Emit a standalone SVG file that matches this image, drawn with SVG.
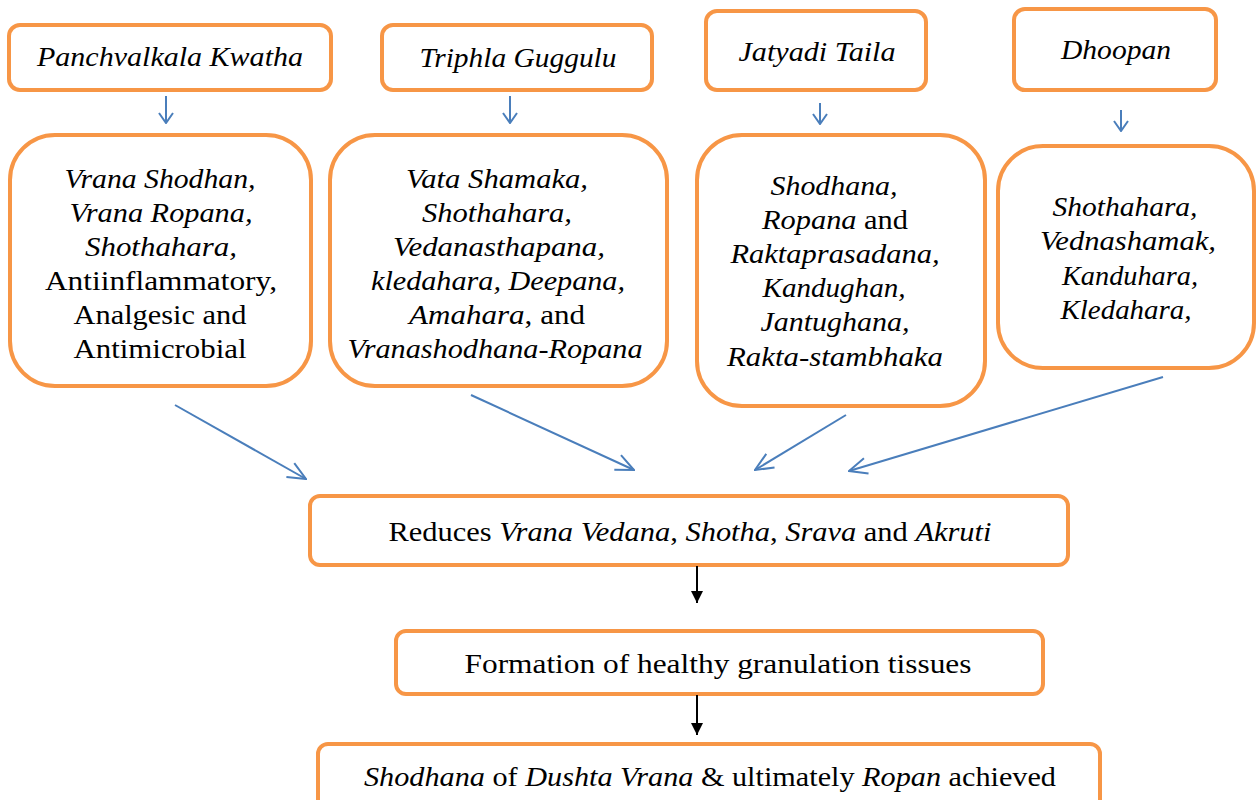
<svg xmlns="http://www.w3.org/2000/svg" width="1256" height="800" viewBox="0 0 1256 800">
<defs>
<style>
.box{fill:#fff;stroke:#F79646;stroke-width:4}
.t{font-family:"Liberation Serif","Times New Roman",serif;font-size:28px;fill:#000;text-anchor:middle}
.i{font-style:italic}
.blue{stroke:#4A7EBB;stroke-width:2;fill:none}
.blk{stroke:#000;stroke-width:2;fill:none}
</style>
<marker id="ob" viewBox="0 0 12 16" refX="11" refY="8" markerWidth="12" markerHeight="16" markerUnits="userSpaceOnUse" orient="auto">
<polyline points="1,1 11,8 1,15" fill="none" stroke="#4A7EBB" stroke-width="2"/>
</marker>
<marker id="obl" viewBox="0 0 20 20" refX="19" refY="10" markerWidth="20" markerHeight="20" markerUnits="userSpaceOnUse" orient="auto">
<polyline points="1,2 19,10 1,18" fill="none" stroke="#4A7EBB" stroke-width="2"/>
</marker>
<marker id="fb" viewBox="0 0 10 10" refX="10" refY="5" markerWidth="14" markerHeight="12" markerUnits="userSpaceOnUse" orient="auto">
<path d="M0,0 L10,5 L0,10 Z" fill="#000"/>
</marker>
</defs>
<rect width="1256" height="800" fill="#fff"/>

<g id="n1"><rect class="box" x="9" y="25" width="322" height="65" rx="11"/><text class="t i" x="170" y="66" textLength="266" lengthAdjust="spacingAndGlyphs">Panchvalkala Kwatha</text></g>
<g id="n2"><rect class="box" x="382" y="25" width="270" height="65" rx="11"/><text class="t i" x="518" y="67" textLength="197" lengthAdjust="spacingAndGlyphs">Triphla Guggulu</text></g>
<g id="n3"><rect class="box" x="706" y="11" width="220" height="79" rx="11"/><text class="t i" x="817" y="61" textLength="157" lengthAdjust="spacingAndGlyphs">Jatyadi Taila</text></g>
<g id="n4"><rect class="box" x="1014" y="9" width="202" height="81" rx="11"/><text class="t i" x="1116" y="59" textLength="110" lengthAdjust="spacingAndGlyphs">Dhoopan</text></g>

<g id="m1"><rect class="box" x="10" y="135" width="301" height="251" rx="45"/>
<text class="t i" x="160" y="188" textLength="191" lengthAdjust="spacingAndGlyphs">Vrana Shodhan,</text>
<text class="t i" x="161" y="222" textLength="183" lengthAdjust="spacingAndGlyphs">Vrana Ropana,</text>
<text class="t i" x="161" y="256" textLength="152" lengthAdjust="spacingAndGlyphs">Shothahara,</text>
<text class="t" x="161" y="290" textLength="232" lengthAdjust="spacingAndGlyphs">Antiinflammatory,</text>
<text class="t" x="160" y="324" textLength="173" lengthAdjust="spacingAndGlyphs">Analgesic and</text>
<text class="t" x="160" y="358" textLength="173" lengthAdjust="spacingAndGlyphs">Antimicrobial</text>
</g>
<g id="m2"><rect class="box" x="330" y="135" width="337" height="251" rx="45"/>
<text class="t i" x="497" y="188" textLength="182" lengthAdjust="spacingAndGlyphs">Vata Shamaka,</text>
<text class="t i" x="497" y="222" textLength="150" lengthAdjust="spacingAndGlyphs">Shothahara,</text>
<text class="t i" x="499" y="256" textLength="212" lengthAdjust="spacingAndGlyphs">Vedanasthapana,</text>
<text class="t i" x="498" y="290" textLength="254" lengthAdjust="spacingAndGlyphs">kledahara, Deepana,</text>
<text class="t" x="497" y="324" textLength="176" lengthAdjust="spacingAndGlyphs"><tspan class="i">Amahara</tspan>, and</text>
<text class="t i" x="495" y="358" textLength="295" lengthAdjust="spacingAndGlyphs">Vranashodhana-Ropana</text>
</g>
<g id="m3"><rect class="box" x="697" y="135" width="288" height="271" rx="45"/>
<text class="t i" x="834" y="195" textLength="127" lengthAdjust="spacingAndGlyphs">Shodhana,</text>
<text class="t" x="835" y="229" textLength="146" lengthAdjust="spacingAndGlyphs"><tspan class="i">Ropana</tspan> and</text>
<text class="t i" x="835" y="263" textLength="209" lengthAdjust="spacingAndGlyphs">Raktaprasadana,</text>
<text class="t i" x="834" y="297" textLength="143" lengthAdjust="spacingAndGlyphs">Kandughan,</text>
<text class="t i" x="835" y="331" textLength="149" lengthAdjust="spacingAndGlyphs">Jantughana,</text>
<text class="t i" x="835" y="366" textLength="216" lengthAdjust="spacingAndGlyphs">Rakta-stambhaka</text>
</g>
<g id="m4"><rect class="box" x="998" y="146" width="256" height="222" rx="45"/>
<text class="t i" x="1125" y="216" textLength="145" lengthAdjust="spacingAndGlyphs">Shothahara,</text>
<text class="t i" x="1128" y="250" textLength="176" lengthAdjust="spacingAndGlyphs">Vednashamak,</text>
<text class="t i" x="1130" y="285" textLength="136" lengthAdjust="spacingAndGlyphs">Kanduhara,</text>
<text class="t i" x="1126" y="319" textLength="131" lengthAdjust="spacingAndGlyphs">Kledahara,</text>
</g>

<g id="r1"><rect class="box" x="310" y="496" width="758" height="69" rx="10"/>
<text class="t" x="690" y="541" textLength="603" lengthAdjust="spacingAndGlyphs">Reduces <tspan class="i">Vrana Vedana</tspan>, <tspan class="i">Shotha</tspan>, <tspan class="i">Srava</tspan> and <tspan class="i">Akruti</tspan></text>
</g>
<g id="r2"><rect class="box" x="396" y="631" width="647" height="63" rx="10"/>
<text class="t" x="718" y="673" textLength="507" lengthAdjust="spacingAndGlyphs">Formation of healthy granulation tissues</text>
</g>
<g id="r3"><rect class="box" x="318" y="744" width="782" height="70" rx="10"/>
<text class="t" x="710" y="786" textLength="692" lengthAdjust="spacingAndGlyphs"><tspan class="i">Shodhana</tspan> of <tspan class="i">Dushta Vrana</tspan> &amp; ultimately <tspan class="i">Ropan</tspan> achieved</text>
</g>

<g id="connectors">
<line class="blue" x1="166" y1="96" x2="166" y2="123" marker-end="url(#ob)"/>
<line class="blue" x1="510" y1="96" x2="510" y2="123" marker-end="url(#ob)"/>
<line class="blue" x1="820" y1="103" x2="820" y2="124" marker-end="url(#ob)"/>
<line class="blue" x1="1121" y1="110" x2="1121" y2="131" marker-end="url(#ob)"/>
<line class="blue" x1="175" y1="405" x2="306" y2="479" marker-end="url(#obl)"/>
<line class="blue" x1="471" y1="395" x2="634" y2="470" marker-end="url(#obl)"/>
<line class="blue" x1="846" y1="415" x2="755" y2="470" marker-end="url(#obl)"/>
<line class="blue" x1="1163" y1="377" x2="849" y2="471" marker-end="url(#obl)"/>
<line class="blk" x1="697" y1="566" x2="697" y2="603" marker-end="url(#fb)"/>
<line class="blk" x1="697" y1="695" x2="697" y2="735" marker-end="url(#fb)"/>
</g>
</svg>
